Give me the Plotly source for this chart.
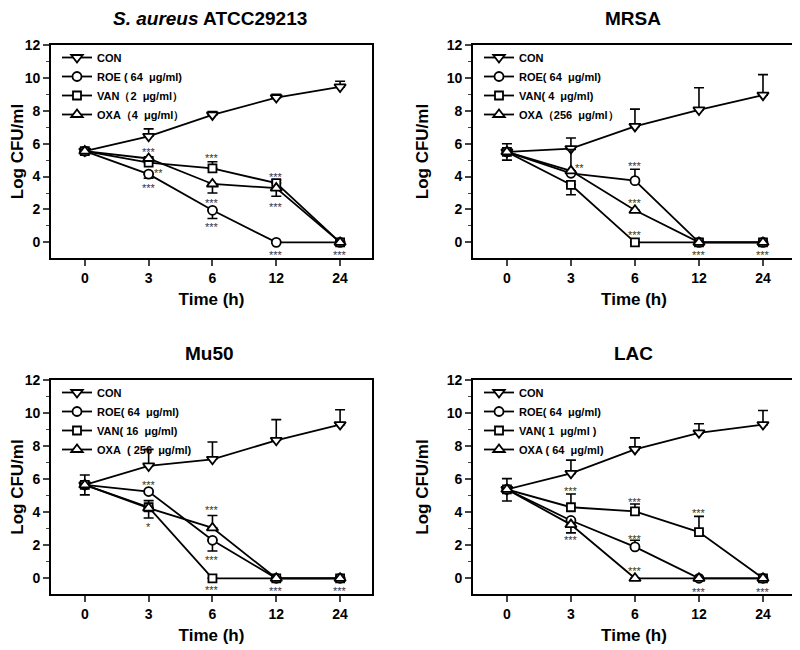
import plotly.graph_objects as go

# time points (h) shown as evenly spaced categories
time_labels = ['0', '3', '6', '12', '24']
xi = [0, 1, 2, 3, 4]

panel_titles = ['<i>S. aureus</i> ATCC29213', 'MRSA', 'Mu50', 'LAC']

SP = '\u00a0'
series_labels = [
    ['CON', 'ROE ( 64' + SP + ' μg/ml)', 'VAN（2' + SP + ' μg/ml）', 'OXA（4' + SP + ' μg/ml）'],
    ['CON', 'ROE( 64' + SP + ' μg/ml)', 'VAN( 4' + SP + ' μg/ml)', 'OXA（256' + SP + ' μg/ml）'],
    ['CON', 'ROE( 64' + SP + ' μg/ml)', 'VAN( 16' + SP + ' μg/ml)', 'OXA' + SP + ' ( 256' + SP + ' μg/ml)'],
    ['CON', 'ROE( 64' + SP + ' μg/ml)', 'VAN( 1' + SP + ' μg/ml )', 'OXA ( 64' + SP + ' μg/ml)'],
]

# ---- S. aureus ATCC29213
atcc_con = [5.55, 6.45, 7.75, 8.8, 9.45]
atcc_con_up = [0.1, 0.45, 0.2, 0.2, 0.35]
atcc_con_dn = [0, 0, 0, 0, 0]
atcc_roe = [5.55, 4.15, 1.95, 0, 0]
atcc_roe_up = [0, 0, 0, 0, 0]
atcc_roe_dn = [0.1, 0.25, 0.5, 0, 0]
atcc_van = [5.55, 4.85, 4.5, 3.6, 0]
atcc_van_up = [0.1, 0, 0.4, 0.2, 0]
atcc_van_dn = [0, 0, 0, 0, 0]
atcc_oxa = [5.55, 5.1, 3.55, 3.3, 0]
atcc_oxa_up = [0, 0.1, 0, 0, 0]
atcc_oxa_dn = [0, 0, 0.55, 0.5, 0]
atcc_sig_x = [1, 1.15, 1, 2, 2, 2, 3, 3, 3, 4]
atcc_sig_y = [5.65, 4.4, 3.5, 5.3, 2.6, 1.1, 4.15, 2.35, -0.6, -0.6]
atcc_sig = ['***', '**', '***', '***', '***', '***', '***', '***', '***', '***']

# ---- MRSA
mrsa_con = [5.5, 5.7, 7.05, 8.05, 8.95]
mrsa_con_up = [0.5, 0.65, 1.05, 1.35, 1.25]
mrsa_con_dn = [0, 0, 0, 0, 0]
mrsa_roe = [5.5, 4.2, 3.75, 0, 0]
mrsa_roe_up = [0, 0, 0.7, 0, 0]
mrsa_roe_dn = [0.5, 0, 0, 0, 0]
mrsa_van = [5.5, 3.5, 0, 0, 0]
mrsa_van_up = [0, 0, 0, 0, 0]
mrsa_van_dn = [0, 0.6, 0, 0, 0]
mrsa_oxa = [5.5, 4.35, 1.95, 0, 0]
mrsa_oxa_up = [0, 1.3, 0, 0, 0]
mrsa_oxa_dn = [0, 0, 0, 0, 0]
mrsa_sig_x = [1.13, 2, 2, 2, 3, 4]
mrsa_sig_y = [4.7, 4.85, 2.6, 0.65, -0.6, -0.6]
mrsa_sig = ['**', '***', '***', '***', '***', '***']

# ---- Mu50
mu50_con = [5.65, 6.8, 7.2, 8.35, 9.3]
mu50_con_up = [0.6, 1.0, 1.05, 1.25, 0.9]
mu50_con_dn = [0, 0, 0, 0, 0]
mu50_roe = [5.65, 5.25, 2.3, 0, 0]
mu50_roe_up = [0, 0, 0, 0, 0]
mu50_roe_dn = [0.6, 0, 0.65, 0, 0]
mu50_van = [5.65, 4.3, 0, 0, 0]
mu50_van_up = [0, 0.4, 0, 0, 0]
mu50_van_dn = [0, 0, 0, 0, 0]
mu50_oxa = [5.65, 4.25, 3.05, 0, 0]
mu50_oxa_up = [0, 0, 0.75, 0, 0]
mu50_oxa_dn = [0, 0.6, 0, 0, 0]
mu50_sig_x = [1, 1, 2, 2, 2, 3, 4]
mu50_sig_y = [5.85, 3.3, 4.3, 1.3, -0.55, -0.6, -0.6]
mu50_sig = ['***', '*', '***', '***', '***', '***', '***']

# ---- LAC
lac_con = [5.38, 6.35, 7.8, 8.8, 9.3]
lac_con_up = [0.65, 0.8, 0.7, 0.55, 0.85]
lac_con_dn = [0, 0, 0, 0, 0]
lac_roe = [5.38, 3.5, 1.9, 0, 0]
lac_roe_up = [0, 0, 0.4, 0, 0]
lac_roe_dn = [0.7, 0, 0, 0, 0]
lac_van = [5.38, 4.3, 4.05, 2.8, 0]
lac_van_up = [0, 0.8, 0.45, 0.95, 0]
lac_van_dn = [0, 0, 0, 0, 0]
lac_oxa = [5.38, 3.25, 0, 0, 0]
lac_oxa_up = [0, 0, 0, 0, 0]
lac_oxa_dn = [0, 0.5, 0, 0, 0]
lac_sig_x = [1, 1, 2, 2, 2, 3, 3, 4]
lac_sig_y = [5.45, 2.5, 4.8, 2.55, 0.65, 4.15, -0.65, -0.65]
lac_sig = ['***', '***', '***', '***', '***', '***', '***', '***']

panels = [
    [(atcc_con, atcc_con_up, atcc_con_dn), (atcc_roe, atcc_roe_up, atcc_roe_dn),
     (atcc_van, atcc_van_up, atcc_van_dn), (atcc_oxa, atcc_oxa_up, atcc_oxa_dn)],
    [(mrsa_con, mrsa_con_up, mrsa_con_dn), (mrsa_roe, mrsa_roe_up, mrsa_roe_dn),
     (mrsa_van, mrsa_van_up, mrsa_van_dn), (mrsa_oxa, mrsa_oxa_up, mrsa_oxa_dn)],
    [(mu50_con, mu50_con_up, mu50_con_dn), (mu50_roe, mu50_roe_up, mu50_roe_dn),
     (mu50_van, mu50_van_up, mu50_van_dn), (mu50_oxa, mu50_oxa_up, mu50_oxa_dn)],
    [(lac_con, lac_con_up, lac_con_dn), (lac_roe, lac_roe_up, lac_roe_dn),
     (lac_van, lac_van_up, lac_van_dn), (lac_oxa, lac_oxa_up, lac_oxa_dn)],
]
sig_marks = [(atcc_sig_x, atcc_sig_y, atcc_sig), (mrsa_sig_x, mrsa_sig_y, mrsa_sig),
             (mu50_sig_x, mu50_sig_y, mu50_sig), (lac_sig_x, lac_sig_y, lac_sig)]

symbols = ['triangle-down', 'circle', 'square', 'triangle-up']
sizes = [10, 9, 8, 10]

FONT = 'Arial, Liberation Sans, sans-serif'
# the page body adds an 8px offset, so the figure is a bit smaller than the window
OFF = 8
W, H = 800 - OFF, 650 - OFF
# plot frames in window pixels: (left, right, top, bottom)
frames = [(51, 372, 45, 258), (473, 795, 45, 258), (51, 372, 380, 594), (473, 795, 380, 594)]
title_x = [210, 633, 210, 633]

fig = go.Figure()
layout = dict(width=W, height=H, margin=dict(l=0, r=0, t=0, b=0), template='none',
              paper_bgcolor='white', plot_bgcolor='white',
              font=dict(family=FONT, color='black'), annotations=[])

for p in range(4):
    n = '' if p == 0 else str(p + 1)
    for s, (vals, up, dn) in enumerate(panels[p]):
        fig.add_trace(go.Scatter(
            x=xi, y=vals, mode='lines+markers', name=series_labels[p][s],
            xaxis='x' + n, yaxis='y' + n, legend='legend' + n,
            line=dict(color='black', width=1.8),
            marker=dict(symbol=symbols[s], size=sizes[s], color='white',
                        line=dict(width=1.8, color='black')),
            error_y=dict(type='data', symmetric=False, array=up, arrayminus=dn,
                         color='black', thickness=1.6, width=5),
        ))
    l, r, t, b = [v - OFF for v in frames[p]]
    layout['xaxis' + n] = dict(
        domain=[l / W, r / W], anchor='y' + n, range=[-0.53, 4.5], automargin=False,
        tickvals=xi, ticktext=time_labels, ticks='outside', ticklen=6, tickwidth=1.6,
        showline=True, linewidth=1.8, linecolor='black', mirror=True, showgrid=False,
        zeroline=False, tickfont=dict(size=14, weight='bold'),
        title=dict(text='Time (h)', font=dict(size=17, weight='bold'), standoff=8))
    layout['yaxis' + n] = dict(
        domain=[1 - b / H, 1 - t / H], anchor='x' + n, range=[-0.95, 12], automargin=False,
        tickvals=[0, 2, 4, 6, 8, 10, 12], ticks='outside', ticklen=6, tickwidth=1.6,
        minor=dict(tickvals=[1, 3, 5, 7, 9, 11], ticks='outside', ticklen=3, tickwidth=1.4),
        showline=True, linewidth=1.8, linecolor='black', mirror=True, showgrid=False,
        zeroline=False, tickfont=dict(size=14, weight='bold'),
        title=dict(text='Log CFU/ml', font=dict(size=17, weight='bold'), standoff=14))
    layout['legend' + n] = dict(
        x=(l + 6) / W, y=1 - (t - 2) / H, xanchor='left', yanchor='top',
        bgcolor='rgba(0,0,0,0)', itemwidth=30, tracegroupgap=0,
        font=dict(size=11, weight='bold', family=FONT))
    # panel title sits just above its plot frame
    layout['annotations'].append(dict(
        text='<b>' + panel_titles[p] + '</b>', x=(title_x[p] - OFF) / W, y=1 - t / H,
        xref='paper', yref='paper', xanchor='center', yanchor='bottom', yshift=14,
        showarrow=False, font=dict(size=19)))
    sx, sy, st = sig_marks[p]
    for k in range(len(st)):
        layout['annotations'].append(dict(
            text=st[k], x=sx[k], y=sy[k], xref='x' + n, yref='y' + n,
            showarrow=False, yshift=-3, font=dict(size=11, color='#333')))

fig.update_layout(**layout)
fig.write_html('out.html')
